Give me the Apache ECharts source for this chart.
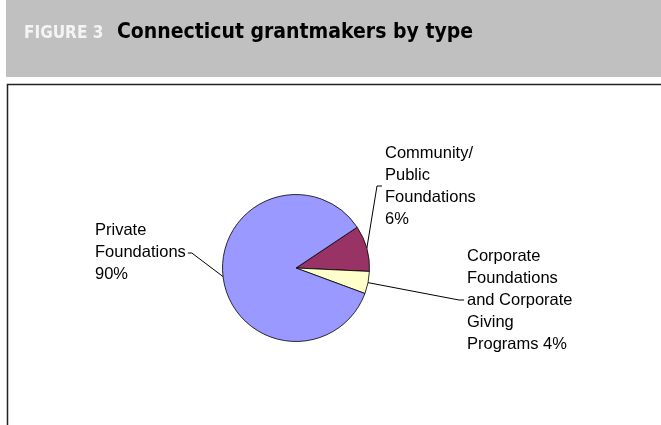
<!DOCTYPE html>
<html lang="en">
<head>
    <meta charset="UTF-8">
    <title>Connecticut grantmakers by type</title>
    <style>
        html, body { margin: 0; padding: 0; background: #fff; }
    </style>
</head>
<body>
<div id="chart-wrap" style="width: 661px;height: 425px;"></div>
<script src="https://cdn.jsdelivr.net/npm/echarts@6/dist/echarts.min.js"></script>
<script>
    // wrapped slice names, as printed next to the pie
    var categories = ['Community/\nPublic\nFoundations', 'Corporate\nFoundations\nand Corporate\nGiving\nPrograms', 'Private\nFoundations'];
    // percentages printed in the labels
    var pctLabels = ['6%', '4%', '90%'];
    // wedge sizes as drawn (the printed figures do not match the drawn wedges exactly)
    var sliceShare = [10.1, 4.9, 85.0];
    var sliceColors = ['#993366', '#FFFFCC', '#9999FF'];

    // where each label block sits: left edge x, middle y, side of the pie
    var labelSpots = [
        {x: 385, y: 186, side: 'right'},
        {x: 467, y: 300, side: 'right'},
        {x: 95, y: 252, side: 'left'}
    ];

    var chart = echarts.init(document.getElementById('chart-wrap'));

    var pieData = categories.map(function (name, i) {
        return {
            name: name,
            value: sliceShare[i],
            itemStyle: {color: sliceColors[i]}
        };
    });

    var option = {
        animation: false,
        backgroundColor: '#fff',
        graphic: [
            {   // grey header band
                type: 'rect',
                shape: {x: 6, y: 0, width: 660, height: 77},
                style: {fill: '#C0C0C0'},
                silent: true
            },
            {   // frame round the chart
                type: 'rect',
                shape: {x: 7.5, y: 84.5, width: 700, height: 400},
                style: {fill: 'none', stroke: '#222', lineWidth: 1.5},
                silent: true
            },
            {
                type: 'text',
                x: 24, y: 33.5,
                style: {
                    text: 'FIGURE 3',
                    fill: '#F4F4F4',
                    font: 'bold 17px "DejaVu Sans Condensed", "DejaVu Sans", sans-serif',
                    verticalAlign: 'middle'
                },
                silent: true
            },
            {
                type: 'text',
                x: 117, y: 32.5,
                style: {
                    text: 'Connecticut grantmakers by type',
                    fill: '#000',
                    font: 'bold 21px "DejaVu Sans Condensed", "DejaVu Sans", sans-serif',
                    verticalAlign: 'middle'
                },
                silent: true
            }
        ],
        series: [
            {
                name: 'Grantmakers',
                type: 'pie',
                center: [296, 268],
                radius: 73.5,
                startAngle: 33.7,
                clockwise: true,
                avoidLabelOverlap: false,
                emphasis: {disabled: true},
                itemStyle: {
                    borderColor: '#000',
                    borderWidth: 0.8
                },
                label: {
                    show: true,
                    position: 'outside',
                    color: '#000',
                    fontFamily: '"Liberation Sans", Arial, sans-serif',
                    fontSize: 16.5,
                    lineHeight: 22,
                    align: 'left',
                    formatter: function (p) {
                        var sep = p.dataIndex === 1 ? ' ' : '\n';
                        return p.name + sep + pctLabels[p.dataIndex];
                    }
                },
                labelLine: {
                    show: true,
                    length: 10,
                    length2: 10,
                    lineStyle: {color: '#000', width: 1}
                },
                labelLayout: function (params) {
                    var spot = labelSpots[params.dataIndex];
                    var w = params.labelRect.width;
                    var edge = params.labelLinePoints ? params.labelLinePoints[0] : null;
                    var out = {
                        x: spot.x,
                        y: spot.y,
                        align: 'left',
                        verticalAlign: 'middle'
                    };
                    if (edge) {
                        if (spot.side === 'left') {
                            out.labelLinePoints = [edge, [spot.x + w + 6, spot.y + 1], [spot.x + w + 2, spot.y + 1]];
                        } else {
                            out.labelLinePoints = [edge, [spot.x - 8, spot.y], [spot.x - 3, spot.y]];
                        }
                    }
                    return out;
                },
                data: pieData
            }
        ]
    };

    chart.setOption(option);
</script>
</body>
</html>
